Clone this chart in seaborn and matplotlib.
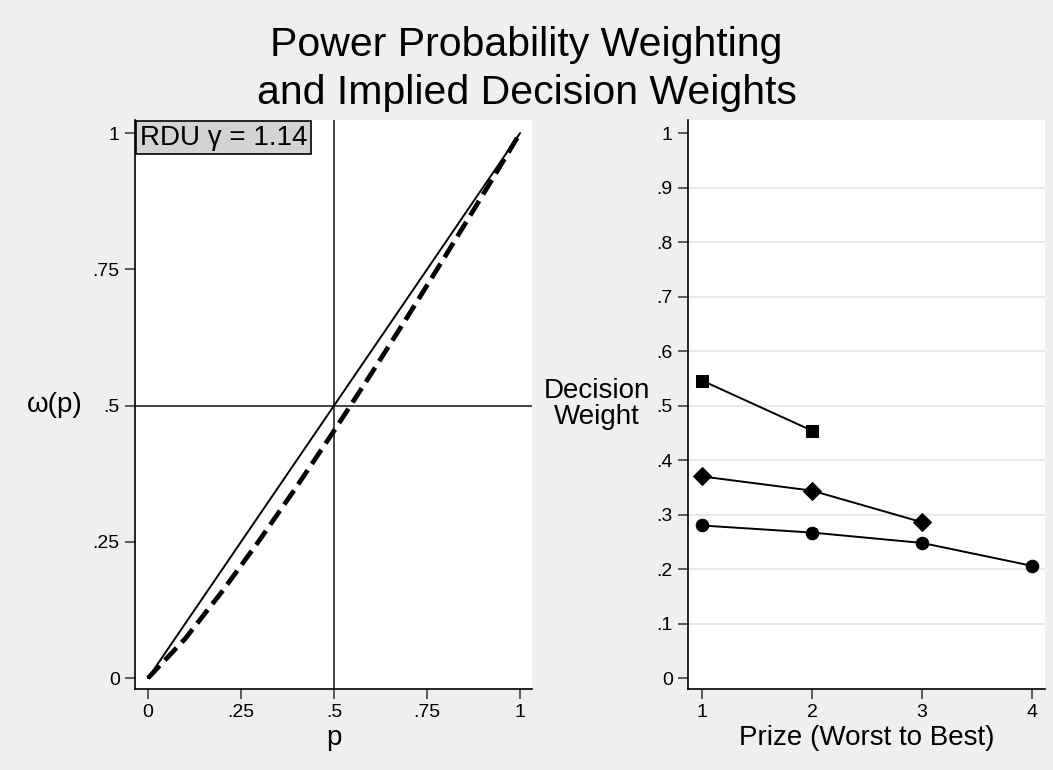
import matplotlib
matplotlib.use("Agg")
import matplotlib.pyplot as plt
import seaborn as sns
import pandas as pd

sns.set_theme(style="white")
plt.rcParams['font.family'] = ['Liberation Sans', 'DejaVu Sans']
plt.rcParams['text.color'] = 'black'
plt.rcParams['axes.labelcolor'] = 'black'
plt.rcParams['xtick.color'] = 'black'
plt.rcParams['ytick.color'] = 'black'

# Left panel data
p_vals = [0.0, 0.1, 0.2, 0.3, 0.4, 0.5, 0.6, 0.7, 0.8, 0.9, 1.0]
omega_vals = [0.0, 0.0724, 0.1597, 0.2535, 0.3518, 0.4538, 0.5586, 0.6659, 0.7754, 0.8868, 1.0]
diag_vals = [0.0, 0.1, 0.2, 0.3, 0.4, 0.5, 0.6, 0.7, 0.8, 0.9, 1.0]

# Right panel data
prize2 = [1, 2]
weight2 = [0.546, 0.454]
prize3 = [1, 2, 3]
weight3 = [0.370, 0.344, 0.286]
prize4 = [1, 2, 3, 4]
weight4 = [0.280, 0.267, 0.248, 0.206]

left_xticks = [0, 0.25, 0.5, 0.75, 1]
left_xticklabels = ["0", ".25", ".5", ".75", "1"]
left_yticks = [0, 0.25, 0.5, 0.75, 1]
left_yticklabels = ["0", ".25", ".5", ".75", "1"]
right_xticks = [1, 2, 3, 4]
right_yticks = [0, 0.1, 0.2, 0.3, 0.4, 0.5, 0.6, 0.7, 0.8, 0.9, 1.0]
right_yticklabels = ["0", ".1", ".2", ".3", ".4", ".5", ".6", ".7", ".8", ".9", "1"]

bg = "#efefef"
fig = plt.figure(figsize=(10.53, 7.70), dpi=100, facecolor=bg)

axL = fig.add_axes([135/1053, 1-689/770, (532-135)/1053, (689-120)/770])
axR = fig.add_axes([688/1053, 1-689/770, (1045-688)/1053, (689-120)/770])

for ax in (axL, axR):
    ax.set_facecolor("white")
    for s in ("top", "right"):
        ax.spines[s].set_visible(False)
    for s in ("left", "bottom"):
        ax.spines[s].set_color("black")
        ax.spines[s].set_linewidth(1.2)
    ax.tick_params(axis="both", which="both", direction="out", length=7.5, width=1.1,
                   color="#333333", labelsize=14, labelcolor="black",
                   left=True, bottom=True, pad=3.5)

# Left panel
dfL = pd.DataFrame({"p": p_vals, "omega": omega_vals, "diag": diag_vals})
axL.axvline(0.5, color="#444444", lw=1.4, zorder=1)
axL.axhline(0.5, color="#444444", lw=1.4, zorder=1)
sns.lineplot(data=dfL, x="p", y="diag", ax=axL, color="black", lw=1.4, zorder=3)
sns.lineplot(data=dfL, x="p", y="omega", ax=axL, color="black", lw=3.4,
             linestyle=(0, (3.6, 1.6)), zorder=3)
axL.set_xlim(-0.035, 1.032)
axL.set_ylim(-0.02, 1.024)
axL.set_xticks(left_xticks)
axL.set_xticklabels(left_xticklabels)
axL.set_yticks(left_yticks)
axL.set_yticklabels(left_yticklabels)
axL.set_xlabel("p", fontsize=20, labelpad=3)
axL.set_ylabel("ω(p)", fontsize=20, rotation=0, labelpad=0)
axL.yaxis.set_label_coords(-0.203, 0.5)
axL.yaxis.label.set_verticalalignment("center")
axL.text(0.012, 0.992, "RDU γ = 1.14", transform=axL.transAxes, fontsize=20,
         ha="left", va="top",
         bbox=dict(boxstyle="square,pad=0.14", facecolor="#d3d3d3", edgecolor="black", lw=1.2),
         zorder=5)

# Right panel
dfR = pd.concat([
    pd.DataFrame({"prize": prize2, "weight": weight2, "n": "2"}),
    pd.DataFrame({"prize": prize3, "weight": weight3, "n": "3"}),
    pd.DataFrame({"prize": prize4, "weight": weight4, "n": "4"}),
])
for yv in right_yticks[1:-1]:
    axR.axhline(yv, color="#e6e6e6", lw=1.3, zorder=0)
sns.lineplot(data=dfR, x="prize", y="weight", hue="n", style="n",
             markers={"2": "s", "3": "D", "4": "o"}, dashes=False,
             palette={"2": "black", "3": "black", "4": "black"},
             markersize=9, markeredgecolor="black", lw=1.4, ax=axR, legend=False,
             zorder=3)
axR.set_xlim(0.873, 4.118)
axR.set_ylim(-0.02, 1.024)
axR.set_xticks(right_xticks)
axR.set_yticks(right_yticks)
axR.set_yticklabels(right_yticklabels)
axR.set_xlabel("Prize (Worst to Best)", fontsize=20, labelpad=3)
axR.set_ylabel("Decision\nWeight", fontsize=20, rotation=0, linespacing=1.0)
axR.yaxis.set_label_coords(-0.255, 0.5)
axR.yaxis.label.set_verticalalignment("center")
axR.yaxis.label.set_horizontalalignment("center")

fig.text(0.5, 1-45/770, "Power Probability Weighting",
         ha="center", va="center", fontsize=29.5)
fig.text(0.5, 1-93/770, "and Implied Decision Weights",
         ha="center", va="center", fontsize=29.5)

fig.savefig("out.png", dpi=100, facecolor=bg)
